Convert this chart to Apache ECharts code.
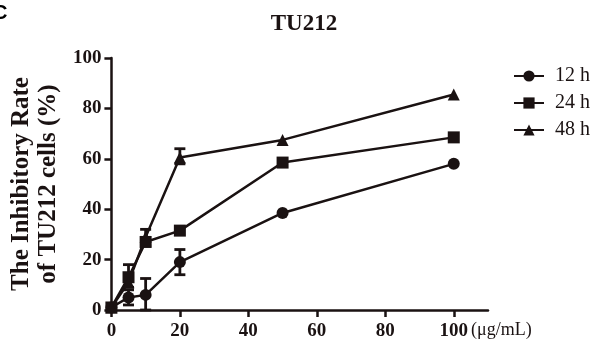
<!DOCTYPE html>
<html>
<head>
<meta charset="utf-8">
<script src="https://cdn.jsdelivr.net/npm/echarts@6/dist/echarts.min.js"></script>
<style>
  html, body { margin: 0; padding: 0; background: #fff; }
  #chart { width: 595px; height: 343px; }
</style>
</head>
<body>
<div id="chart"></div>
<script>
const doses = [0, 5, 10, 20, 50, 100];
const seriesNames = ["12 h", "24 h", "48 h"];
const rate12 = [1, 5, 6, 19, 38.5, 58];
const rate24 = [1, 13, 27, 31.5, 58.5, 68.5];
const rate48 = [1, 11, 29, 60.5, 67.5, 85.5];
// error bar ranges [dose, low, high]
const err12 = [[5, 2, 8], [10, 0, 12.5], [20, 14, 24]];
const err24 = [[5, 9, 18], [10, 25.5, 32]];
const err48 = [[20, 58, 64]];

const ink = "#1a1212";
const serif = "'Liberation Serif', 'Times New Roman', serif";

const chart = echarts.init(document.getElementById("chart"));

function pairs(vals) {
  return doses.map((d, i) => [d, vals[i]]);
}

function errorSeries(data) {
  return {
    type: "custom",
    data: data,
    z: 3,
    renderItem: function (params, api) {
      const x = api.value(0);
      const lo = api.coord([x, api.value(1)]);
      const hi = api.coord([x, api.value(2)]);
      const w = 5.5;
      const st = { stroke: ink, lineWidth: 2.8 };
      return {
        type: "group",
        children: [
          { type: "line", shape: { x1: lo[0], y1: lo[1], x2: hi[0], y2: hi[1] }, style: st },
          { type: "line", shape: { x1: hi[0] - w, y1: hi[1], x2: hi[0] + w, y2: hi[1] }, style: st },
          { type: "line", shape: { x1: lo[0] - w, y1: lo[1], x2: lo[0] + w, y2: lo[1] }, style: st }
        ]
      };
    }
  };
}

function lineSeries(name, vals, symbol, size) {
  return {
    name: name,
    type: "line",
    data: pairs(vals),
    symbol: symbol,
    symbolSize: size,
    itemStyle: { color: ink },
    lineStyle: { color: ink, width: 2.5 },
    z: 4
  };
}

const option = {
  animation: false,
  title: {
    text: "TU212",
    left: 299,
    top: 8,
    textAlign: "center",
    textStyle: { fontFamily: serif, fontWeight: "bold", fontSize: 23, color: ink }
  },
  legend: {
    left: 508,
    top: 61,
    padding: 5,
    orient: "vertical",
    itemWidth: 30,
    itemHeight: 14,
    itemGap: 7,
    data: seriesNames,
    textStyle: { fontFamily: serif, fontSize: 20, color: ink, padding: [0, 0, 0, 6] }
  },
  graphic: [
    { type: "text", left: -7, top: 3, style: { text: "C", fontFamily: "Arial", fontWeight: "bold", fontSize: 20, fill: "#000" } },
    { type: "text", left: 471, top: 321, style: { text: "(μg/mL)", fontFamily: serif, fontSize: 18, fill: ink } }
  ],
  grid: { left: 107, right: 107, top: 58, bottom: 33 },
  xAxis: {
    type: "value",
    min: 0,
    max: 110,
    interval: 20,
    splitLine: { show: false },
    axisLine: { onZero: false, lineStyle: { color: ink, width: 2.5 } },
    axisTick: { show: true, length: 7, lineStyle: { color: ink, width: 2.5 } },
    axisLabel: {
      showMaxLabel: false,
      margin: 12,
      fontFamily: serif,
      fontWeight: "bold",
      fontSize: 19,
      color: ink
    }
  },
  yAxis: {
    type: "value",
    min: 0,
    max: 100,
    interval: 20,
    name: "The Inhibitory Rate\nof TU212 cells (%)",
    nameLocation: "middle",
    nameGap: 46,
    nameRotate: 90,
    nameTextStyle: { fontFamily: serif, fontWeight: "bold", fontSize: 25, color: ink, lineHeight: 27 },
    splitLine: { show: false },
    axisLine: { show: true, lineStyle: { color: ink, width: 2.5 } },
    axisTick: { show: true, length: 7, lineStyle: { color: ink, width: 2.5 } },
    axisLabel: { margin: 10, fontFamily: serif, fontWeight: "bold", fontSize: 19, color: ink }
  },
  series: [
    lineSeries(seriesNames[0], rate12, "circle", 12),
    lineSeries(seriesNames[1], rate24, "rect", 12),
    lineSeries(seriesNames[2], rate48, "triangle", 12),
    errorSeries(err12),
    errorSeries(err24),
    errorSeries(err48)
  ]
};

chart.setOption(option);
</script>
</body>
</html>
